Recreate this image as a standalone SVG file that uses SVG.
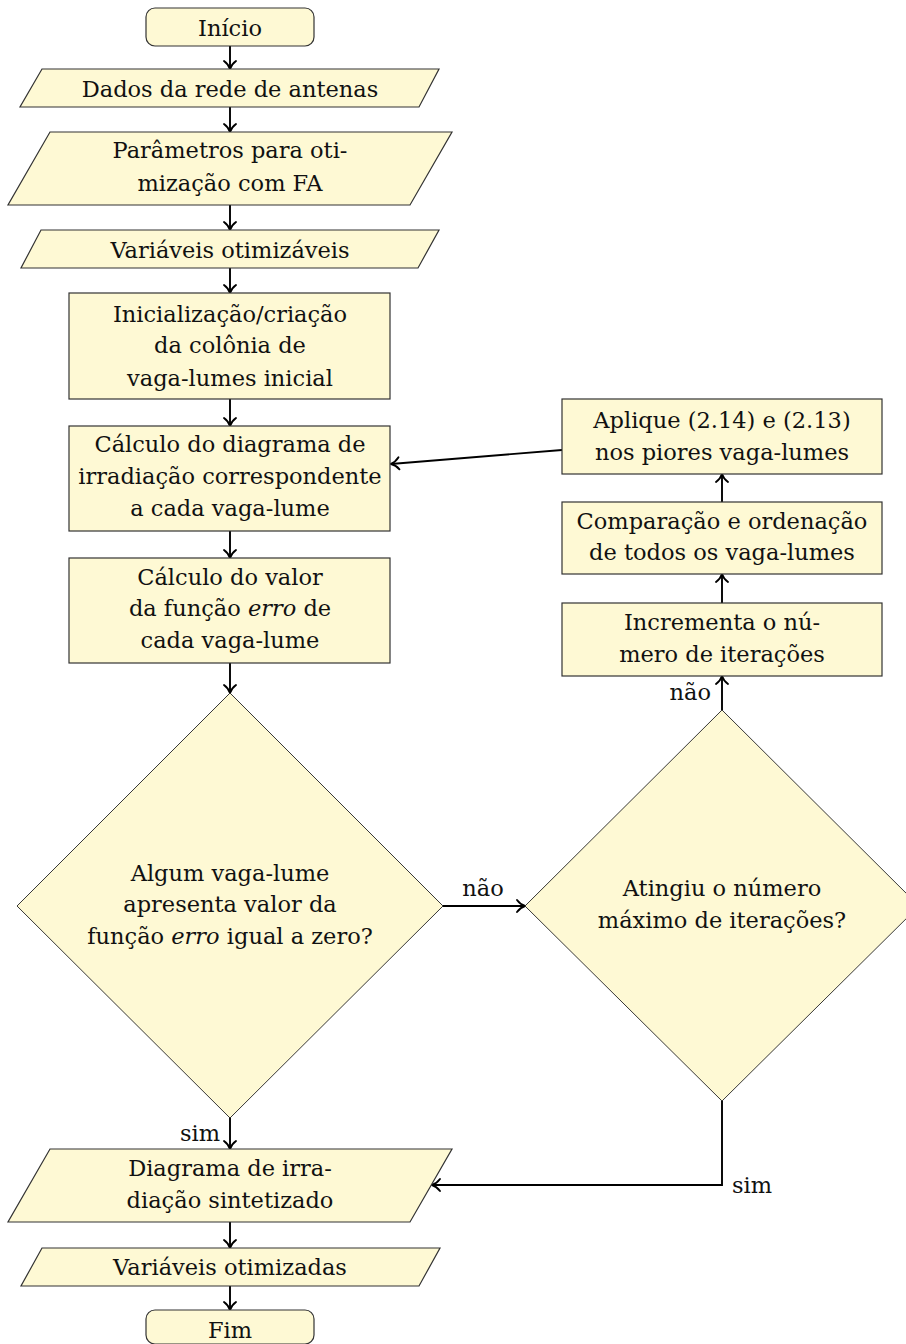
<svg xmlns="http://www.w3.org/2000/svg" width="906" height="1344" viewBox="0 0 906 1344">
<style>
.n{fill:#fef9d4;stroke:#333;stroke-width:1.2}
.d{fill:#fef9d4;stroke:#222;stroke-width:0.9}
.t{font-family:'DejaVu Serif','Liberation Serif',serif;font-size:22.5px;fill:#111;text-anchor:middle}
.l{font-family:'DejaVu Serif','Liberation Serif',serif;font-size:22.5px;fill:#111}
.c{fill:none;stroke:#000;stroke-width:1.9;marker-end:url(#ah)}
</style>
<defs>
<marker id="ah" markerUnits="userSpaceOnUse" viewBox="-12 -8 14 16" refX="0" refY="0" markerWidth="14" markerHeight="16" orient="auto">
<path d="M -8 -6 C -5.5 -2.6 -2.2 -0.7 0 0 C -2.2 0.7 -5.5 2.6 -8 6" fill="none" stroke="#000" stroke-width="1.9" stroke-linecap="round" stroke-linejoin="round"/>
</marker>
</defs>
<g id="connectors">
<line class="c" x1="230" y1="46" x2="230" y2="69"/>
<line class="c" x1="230" y1="107" x2="230" y2="132"/>
<line class="c" x1="230" y1="205" x2="230" y2="230"/>
<line class="c" x1="230" y1="268" x2="230" y2="293"/>
<line class="c" x1="230" y1="399" x2="230" y2="426"/>
<line class="c" x1="230" y1="531" x2="230" y2="558"/>
<line class="c" x1="230" y1="663" x2="230" y2="693"/>
<line class="c" x1="443" y1="906" x2="525" y2="906"/>
<line class="c" x1="722" y1="710" x2="722" y2="676"/>
<line class="c" x1="722" y1="603" x2="722" y2="574"/>
<line class="c" x1="722" y1="502" x2="722" y2="474"/>
<line class="c" x1="562" y1="450" x2="391" y2="464"/>
<line class="c" x1="230" y1="1117" x2="230" y2="1149"/>
<polyline class="c" points="722,1101 722,1185 432,1185"/>
<line class="c" x1="230" y1="1222" x2="230" y2="1248"/>
<line class="c" x1="230" y1="1286" x2="230" y2="1310"/>
<text class="l" x="483" y="896" text-anchor="middle">não</text>
<text class="l" x="711" y="700" text-anchor="end">não</text>
<text class="l" x="220" y="1141" text-anchor="end">sim</text>
<text class="l" x="732" y="1193">sim</text>
</g>
<g id="inicio">
<rect class="n" x="146" y="8" width="168" height="38" rx="9"/>
<text class="t" x="230" y="36">Início</text>
</g>
<g id="dados">
<polygon class="n" points="42,69 439,69 419,107 20,107"/>
<text class="t" x="230" y="97">Dados da rede de antenas</text>
</g>
<g id="parametros">
<polygon class="n" points="50,132 452,132 410,205 8,205"/>
<text class="t" x="230" y="158">Parâmetros para oti-</text>
<text class="t" x="230" y="191">mização com FA</text>
</g>
<g id="variaveis-otimizaveis">
<polygon class="n" points="41,230 439,230 418,268 21,268"/>
<text class="t" x="230" y="258">Variáveis otimizáveis</text>
</g>
<g id="inicializacao">
<rect class="n" x="69" y="293" width="321" height="106"/>
<text class="t" x="230" y="322">Inicialização/criação</text>
<text class="t" x="230" y="353">da colônia de</text>
<text class="t" x="230" y="386">vaga-lumes inicial</text>
</g>
<g id="calculo-diagrama">
<rect class="n" x="69" y="426" width="321" height="105"/>
<text class="t" x="230" y="452">Cálculo do diagrama de</text>
<text class="t" x="230" y="484">irradiação correspondente</text>
<text class="t" x="230" y="516">a cada vaga-lume</text>
</g>
<g id="calculo-erro">
<rect class="n" x="69" y="558" width="321" height="105"/>
<text class="t" x="230" y="585">Cálculo do valor</text>
<text class="t" x="230" y="616">da função <tspan font-style="italic">erro</tspan> de</text>
<text class="t" x="230" y="648">cada vaga-lume</text>
</g>
<g id="decisao-erro">
<polygon class="d" points="230,693 443,906 230,1118 17,906"/>
<text class="t" x="230" y="881">Algum vaga-lume</text>
<text class="t" x="230" y="912">apresenta valor da</text>
<text class="t" x="230" y="944">função <tspan font-style="italic">erro</tspan> igual a zero?</text>
</g>
<g id="decisao-iteracoes">
<polygon class="d" points="722,710 919,906 722,1101 525,906"/>
<text class="t" x="722" y="896">Atingiu o número</text>
<text class="t" x="722" y="928">máximo de iterações?</text>
</g>
<g id="incrementa">
<rect class="n" x="562" y="603" width="320" height="73"/>
<text class="t" x="722" y="630">Incrementa o nú-</text>
<text class="t" x="722" y="662">mero de iterações</text>
</g>
<g id="comparacao">
<rect class="n" x="562" y="502" width="320" height="72"/>
<text class="t" x="722" y="529">Comparação e ordenação</text>
<text class="t" x="722" y="560">de todos os vaga-lumes</text>
</g>
<g id="aplique">
<rect class="n" x="562" y="399" width="320" height="75"/>
<text class="t" x="722" y="428">Aplique (2.14) e (2.13)</text>
<text class="t" x="722" y="460">nos piores vaga-lumes</text>
</g>
<g id="diagrama-sintetizado">
<polygon class="n" points="50,1149 452,1149 410,1222 8,1222"/>
<text class="t" x="230" y="1176">Diagrama de irra-</text>
<text class="t" x="230" y="1208">diação sintetizado</text>
</g>
<g id="variaveis-otimizadas">
<polygon class="n" points="42,1248 440,1248 419,1286 21,1286"/>
<text class="t" x="230" y="1275">Variáveis otimizadas</text>
</g>
<g id="fim">
<rect class="n" x="146" y="1310" width="168" height="34" rx="9"/>
<text class="t" x="230" y="1338">Fim</text>
</g>
</svg>
